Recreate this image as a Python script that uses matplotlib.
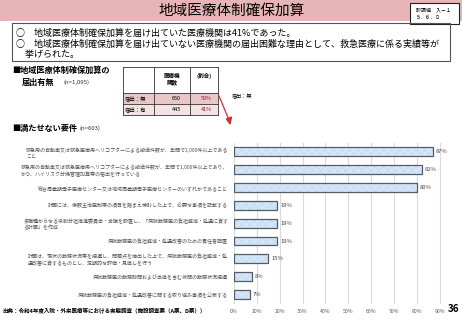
import matplotlib.pyplot as plt
from matplotlib.patches import Rectangle

plt.rcParams["font.family"] = ["Noto Sans CJK JP", "DejaVu Sans"]
plt.rcParams["hatch.linewidth"] = 0.35

W, H = 462, 320

title = "地域医療体制確保加算"
doc_id = ["診調組　入－１", "５．６．８"]
summary = [
    "○　地域医療体制確保加算を届け出ていた医療機関は41%であった。",
    "○　地域医療体制確保加算を届け出ていない医療機関の届出困難な理由として、救急医療に係る実績等が",
    "　挙げられた。",
]

table_header = ["", "医療機\n関数", "(割合)"]
table_rows = ["届出：無", "届出：有"]
table_counts = [650, 445]
table_share = [59, 41]

requirements = [
    "救急用の自動車又は救急医療用ヘリコプターによる搬送件数が、年間で2,000件以上である\nこと",
    "救急用の自動車又は救急医療用ヘリコプターによる搬送件数が、年間で1,000件以上であり、\nかつ、ハイリスク分娩管理加算等の届出を行っている",
    "総合周産期母子医療センター又は地域周産期母子医療センターのいずれかであること",
    "計画には、複数主治医制等の項目を踏まえ検討した上で、必要な事項を記載する",
    "多職種からなる役割分担推進委員会・会議を設置し、「病院勤務医の負担軽減・処遇に資す\nる計画」を作成",
    "病院勤務医の負担軽減・処遇改善のための責任者配置",
    "計画は、現状の勤務状況等を把握し、問題点を抽出した上で、病院勤務医の負担軽減・処\n遇改善に資するものとし、定期的な評価・見直しを行う",
    "病院勤務医の勤務時間および当直を含む夜間の勤務状況把握",
    "病院勤務医の負担軽減・処遇改善に関する取り組み事項を公表する",
]
shares = [87, 82, 80, 19, 19, 19, 15, 8, 7]
xticks = [0, 10, 20, 30, 40, 50, 60, 70, 80, 90]

source = "出典：令和4年度入院・外来医療等における実態調査（施設調査票（A票、D票））"
page = "36"


def fx(x):
    return x / W


def fy(y):
    return 1 - y / H


fig = plt.figure(figsize=(W / 100, H / 100), dpi=100)


def text(x, y, s, **kw):
    fig.text(fx(x), fy(y), s, **kw)


def rect(x0, y0, x1, y1, **kw):
    fig.patches.append(Rectangle((fx(x0), fy(y1)), fx(x1) - fx(x0), fy(y0) - fy(y1),
                                 transform=fig.transFigure, figure=fig, **kw))


# header band
rect(0, 0, W, 20.5, facecolor="#E7B5B8", edgecolor="none")
text(232, 10.5, title, ha="center", va="center", fontsize=10.5)
rect(410, 3, 459, 24, facecolor="white", edgecolor="#222222", linewidth=0.8)
text(416, 9.5, doc_id[0], ha="left", va="center", fontsize=3.6)
text(416, 17.5, doc_id[1], ha="left", va="center", fontsize=3.6)

# summary box
rect(12, 23, 450, 61, facecolor="none", edgecolor="#555555", linewidth=0.8)
for y, s in zip([33, 44, 54.5], summary):
    text(16, y, s, ha="left", va="center", fontsize=6.5)

# left section headers
text(12, 70, "■地域医療体制確保加算の", ha="left", va="center", fontsize=5.9, weight="bold")
text(22, 82, "届出有無", ha="left", va="center", fontsize=5.9, weight="bold")
text(64, 82, "(n=1,095)", ha="left", va="center", fontsize=4.3, color="#333333")
text(12, 128, "■満たせない要件", ha="left", va="center", fontsize=5.9, weight="bold")
text(79, 128.5, "(n=603)", ha="left", va="center", fontsize=4.3, color="#333333")

# table
cols = [123, 154, 190, 218]
rows = [67, 93, 104, 114.5]
fills = ["white", "#E9C7C9", "#F5E3E4"]
for r in range(3):
    rect(cols[0], rows[r], cols[3], rows[r + 1], facecolor=fills[r], edgecolor="none")
for x in cols:
    fig.add_artist(plt.Line2D([fx(x), fx(x)], [fy(rows[0]), fy(rows[-1])],
                              color="#333333", linewidth=0.6, transform=fig.transFigure))
for y in rows:
    fig.add_artist(plt.Line2D([fx(cols[0]), fx(cols[-1])], [fy(y), fy(y)],
                              color="#333333", linewidth=0.6, transform=fig.transFigure))
text(172, 80, table_header[1], ha="center", va="center", fontsize=4.0, weight="bold",
     linespacing=1.1)
text(204, 76, table_header[2], ha="center", va="center", fontsize=4.0, weight="bold")
for i, label in enumerate(table_rows):
    yc = (rows[i + 1] + rows[i + 2]) / 2
    text(125, yc, label, ha="left", va="center", fontsize=3.9)
    text(181, yc, f"{table_counts[i]}", ha="right", va="center", fontsize=3.9)
    text(212, yc, f"{table_share[i]}%", ha="right", va="center", fontsize=3.9, color="#8B1A1A")

# arrow
fig.add_artist(plt.Line2D([fx(219), fx(229)], [fy(96), fy(120)], color="#D0302C",
                          linewidth=0.9, transform=fig.transFigure))
fig.patches.append(plt.Polygon([(fx(226.5), fy(119)), (fx(231.5), fy(117)), (fx(230), fy(124))],
                               closed=True, color="#D0302C", transform=fig.transFigure, figure=fig))
text(232, 97, "届出：無", ha="left", va="center", fontsize=3.7)

# bar chart
x0, x1 = 233.8, W
y0, y1 = 142.8, 303.5
step = 22.9
ax = fig.add_axes([fx(x0), fy(y1), fx(x1) - fx(x0), fy(y0) - fy(y1)])
ypos = list(range(len(shares)))
ax.set_xlim(0, (x1 - x0) / step * 10)
ax.set_ylim(len(shares) - 0.5, -0.5)
ax.barh(ypos, shares, height=0.49, color="#D3E6F7", edgecolor="none", zorder=2)
ax.barh(ypos, shares, height=0.49, color="none", hatch="xxxx", edgecolor="#BDD5EE",
        linewidth=0, zorder=3)
ax.barh(ypos, shares, height=0.49, color="none", edgecolor="#555B63", linewidth=0.9, zorder=4)
for y, v in zip(ypos, shares):
    ax.text(v + 1.3, y, f"{v}%", ha="left", va="center", fontsize=4.2, color="#444444")
ax.set_xticks(xticks)
ax.set_xticklabels([f"{t}%" for t in xticks], fontsize=3.7, color="#555555")
ax.set_yticks(ypos)
ax.set_yticklabels(requirements, fontsize=3.6, color="#555555", multialignment="left",
                   linespacing=1.35)
ax.tick_params(axis="both", length=0, pad=4)
ax.grid(axis="x", color="#DADADA", linewidth=0.8, zorder=0)
for s in ax.spines.values():
    s.set_visible(False)
ax.set_facecolor("none")

# footer
text(2, 310.5, source, ha="left", va="center", fontsize=4.0, weight="bold")
text(448, 309, page, ha="left", va="center", fontsize=7, weight="bold")

fig.savefig("out.png", dpi=100)
